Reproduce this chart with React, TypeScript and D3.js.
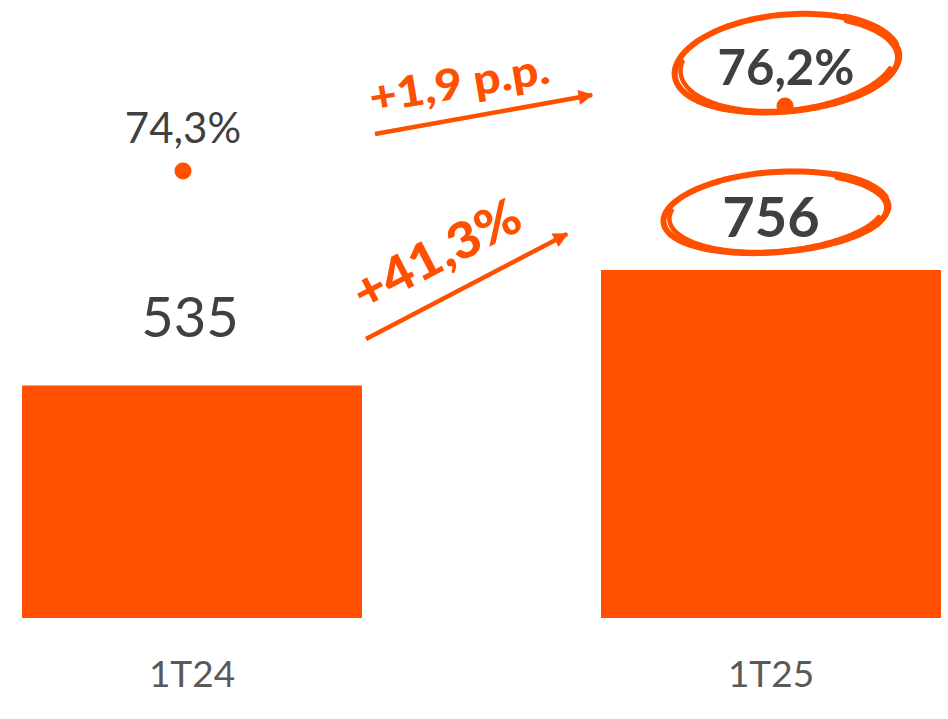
import React from "react";
import * as d3 from "d3";

const categories = ["1T24", "1T25"];
const volumes = [535, 756];
const volumeLabels = ["535", "756"];
const shares = [74.3, 76.2];
const shareLabels = ["74,3%", "76,2%"];
const volumeGrowthLabel = "+41,3%";
const shareGrowthLabel = "+1,9 p.p.";

const W = 948;
const H = 719;
const ORANGE = "#FF5000";
const DARK = "#404040";
const GREY = "#595959";
const FONT = "Lato, 'Open Sans', sans-serif";

function sketchLoop(
  cx: number,
  cy: number,
  rx: number,
  ry: number,
  rot: number,
  t0: number,
  t1: number,
  grow: number,
  wob: number,
  phase: number
) {
  const pts: [number, number][] = [];
  const n = 140;
  const c = Math.cos(rot);
  const s = Math.sin(rot);
  for (let i = 0; i <= n; i++) {
    const t = t0 + ((t1 - t0) * i) / n;
    const f = 1 + grow * ((t - t0) / (2 * Math.PI)) + wob * Math.sin(3 * t + phase);
    const ex = rx * f * Math.cos(t);
    const ey = ry * f * Math.sin(t);
    pts.push([cx + ex * c - ey * s, cy + ex * s + ey * c]);
  }
  return d3.line().curve(d3.curveBasis)(pts) || "";
}

function SketchEllipse({ cx, cy, rx, ry, rot }: { cx: number; cy: number; rx: number; ry: number; rot: number }) {
  const strokes = [
    { d: sketchLoop(cx, cy, rx, ry, rot, -0.95, -0.95 + 2 * Math.PI + 0.35, 0.045, 0.012, 0.3), w: 6 },
    { d: sketchLoop(cx, cy, rx * 1.02, ry * 1.05, rot, -2.2, 0.9, 0.0, 0.015, 1.4), w: 3.5 },
    { d: sketchLoop(cx, cy, rx * 0.97, ry * 0.97, rot, 0.3, 3.4, 0.02, 0.01, 2.1), w: 4.5 },
    { d: sketchLoop(cx, cy, rx * 1.04, ry * 1.1, rot, -1.0, -0.2, 0.0, 0.0, 0), w: 3 },
  ];
  return (
    <g fill="none" stroke={ORANGE} strokeLinecap="round" strokeLinejoin="round">
      {strokes.map((s, i) => (
        <path key={i} d={s.d} strokeWidth={s.w} />
      ))}
    </g>
  );
}

export default function App() {
  const x = d3.scaleBand<string>().domain(categories).range([22, 941]).paddingInner(0.4128).paddingOuter(0);
  const y = d3.scaleLinear().domain([90, 756]).range([618, 270]);
  const yPct = d3.scaleLinear().domain([shares[0], shares[1]]).range([171, 106]);
  const bw = x.bandwidth();
  const cxs = categories.map((c) => (x(c) as number) + bw / 2);
  const dotX = [cxs[0] - 9, cxs[1] + 14];

  const x0end = (x(categories[0]) as number) + bw;
  const x1start = x(categories[1]) as number;

  const arrowVol = { x1: x0end + 4, y1: y(volumes[0]) - 46.5, x2: x1start - 34, y2: y(volumes[1]) - 36 };
  const arrowPct = { x1: x0end + 13, y1: yPct(shares[0]) - 37, x2: x1start - 9, y2: yPct(shares[1]) - 11 };

  return (
    <svg width={W} height={H} style={{ position: "absolute", left: 0, top: 0, background: "#fff" }}>
      <defs>
        <marker id="ah" viewBox="0 0 10 10" refX="9" refY="5" markerUnits="userSpaceOnUse" markerWidth="18" markerHeight="15" orient="auto">
          <path d="M0,0 L10,5 L0,10 Z" fill={ORANGE} />
        </marker>
      </defs>

      {categories.map((c, i) => (
        <rect key={c} x={x(c)} y={y(volumes[i])} width={bw} height={618 - y(volumes[i])} fill={ORANGE} />
      ))}

      {categories.map((c, i) => (
        <text key={c} x={cxs[i]} y={687} textAnchor="middle" fontFamily={FONT} fontSize={37} fill={GREY}>
          {c}
        </text>
      ))}

      <text x={cxs[0] - 2} y={y(volumes[0]) - 48} textAnchor="middle" fontFamily={FONT} fontSize={56} fill={DARK}>
        {volumeLabels[0]}
      </text>
      <text x={cxs[1]} y={y(volumes[1]) - 33} textAnchor="middle" fontFamily={FONT} fontWeight={700} fontSize={56} fill={DARK}>
        {volumeLabels[1]}
      </text>

      <text x={dotX[0]} y={yPct(shares[0]) - 28} textAnchor="middle" fontFamily={FONT} fontSize={42} fill={DARK}>
        {shareLabels[0]}
      </text>
      <text x={dotX[1] + 1} y={yPct(shares[1]) - 21} textAnchor="middle" fontFamily={FONT} fontWeight={700} fontSize={49} fill={DARK}>
        {shareLabels[1]}
      </text>

      <SketchEllipse cx={787} cy={64} rx={110} ry={47} rot={-0.09} />
      <SketchEllipse cx={776} cy={213} rx={110} ry={39} rot={-0.07} />

      {shares.map((s, i) => (
        <circle key={i} cx={dotX[i]} cy={yPct(s)} r={8.5} fill={ORANGE} />
      ))}

      <line {...arrowVol} stroke={ORANGE} strokeWidth={4.5} markerEnd="url(#ah)" />
      <line {...arrowPct} stroke={ORANGE} strokeWidth={4.5} markerEnd="url(#ah)" />

      <text
        transform={`translate(${arrowVol.x1 - 2},${arrowVol.y1 - 27}) rotate(-27.5)`}
        fontFamily={FONT}
        fontWeight={900}
        fontSize={50}
        fill={ORANGE}
        textLength={182}
        lengthAdjust="spacingAndGlyphs"
      >
        {volumeGrowthLabel}
      </text>
      <text
        transform={`translate(${arrowPct.x1 - 3},${arrowPct.y1 - 21}) rotate(-9.5)`}
        fontFamily={FONT}
        fontWeight={900}
        fontSize={43}
        fill={ORANGE}
        textLength={182}
        lengthAdjust="spacingAndGlyphs"
      >
        {shareGrowthLabel}
      </text>
    </svg>
  );
}
